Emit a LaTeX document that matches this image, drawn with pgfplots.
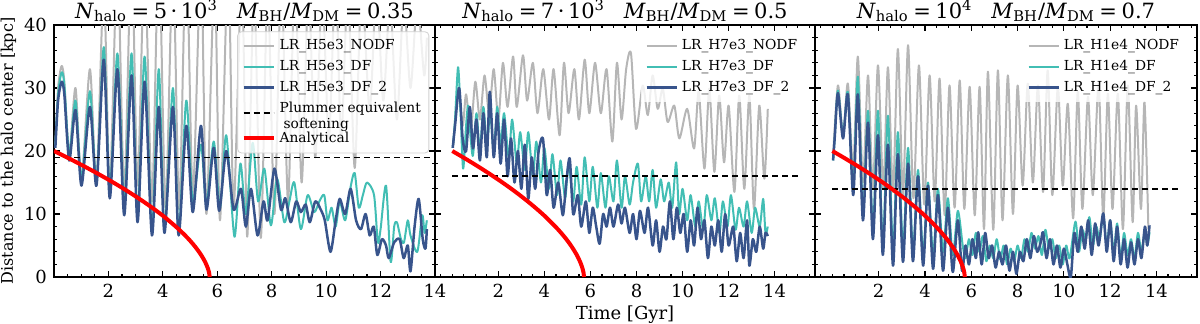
\documentclass[border=0pt]{standalone}
\usepackage{fontspec}
\setmainfont{DejaVu Serif}
\usepackage{pgfplots}
\pgfplotsset{compat=1.18}

\definecolor{nodf}{RGB}{182,182,182}
\definecolor{df}{RGB}{66,190,180}
\definecolor{dftwo}{RGB}{56,84,140}

\newcommand{\eq}{\hspace{0.22em}=\hspace{0.22em}}
\newcommand{\ttl}[2]{\textit{N}\textsubscript{halo}\eq#1\hspace{0.9em}\textit{M}\textsubscript{BH}/\textit{M}\textsubscript{DM}\eq#2}

\pgfplotsset{
  panel/.style={
    scale only axis, height=126pt,
    ymin=0, ymax=40,
    ytick={0,10,20,30,40}, minor ytick={2,4,...,38},
    xtick={2,4,...,14},
    tick align=inside,
    major tick length=3pt, minor tick length=1.6pt,
    tick style={black, line width=0.6pt},
    axis line style={line width=1pt},
    tick label style={font=\fontsize{9}{10}\selectfont},
    xlabel style={font=\fontsize{9}{10}\selectfont, yshift=3pt},
    ylabel style={font=\fontsize{8}{9}\selectfont},
    ylabel shift=-3pt,
    /pgf/number format/assume math mode=true,
    title style={font=\fontsize{10.5}{11}\selectfont, anchor=base, yshift=-2.5pt},
    legend cell align=left,
    legend image code/.code={\draw[##1] (0pt,0pt) -- (15pt,0pt);},
    legend style={font=\fontsize{6.9}{8}\selectfont, fill=white, fill opacity=0.8,
      text opacity=1, row sep=-0.3pt, inner sep=2pt},
    every axis plot/.append style={line join=round},
  },
  grey/.style={nodf, line width=1pt, smooth, tension=0.45},
  teal/.style={df, line width=1pt, smooth, tension=0.45},
  navy/.style={dftwo, line width=1.25pt, smooth, tension=0.45},
  soft/.style={black, line width=0.8pt, dash pattern=on 3pt off 2pt},
  ana/.style={red, line width=2pt, smooth},
}

\begin{document}
\begin{tikzpicture}
\useasboundingbox (-27pt,-23pt) rectangle (573pt,138.5pt);

% ---------------- panel 1 ----------------
\begin{axis}[panel, at={(0pt,0pt)}, width=190.5pt,
  xmin=0, xmax=14, minor xtick={0.5,1,...,13.5},
  ylabel={Distance to the halo center [kpc]},
  title={\ttl{5\,·\,10\textsuperscript{3}}{0.35}},
  legend style={at={(0.985,0.975)}, anchor=north east, draw=black!18, rounded corners=2pt},
]
\addplot[grey] coordinates {
(0.05,21)(0.15,30)(0.28,33.5)(0.38,31)(0.56,19.5)(0.79,30)(1.01,15.5)(1.32,33)(1.56,15)
(1.83,46)(2.05,14)(2.33,50)(2.58,13.5)(2.85,52)(3.07,14.5)(3.33,50)(3.6,12)(3.85,52)
(4.1,11)(4.37,50)(4.6,10.8)(4.86,52)(5.1,13)(5.4,50)(5.6,10)(5.9,48)(6.1,9)(6.4,50)
(6.6,10.8)(6.9,48)(7.1,6.4)(7.35,46)(7.6,6.2)(7.85,46)(8.1,10)(8.35,48)(8.6,12)(8.85,48)
(9.1,15)(9.35,46)(9.6,19)(9.85,46)(10.1,22)(10.35,48)(10.55,21.7)(10.8,46)(11.05,17.3)
(11.3,46)(11.6,26.5)(11.85,46)(12.1,28)(12.35,44)(12.6,25)(12.85,44)(13.1,30)(13.35,44)
(13.6,32)(13.7,38)};
\addplot[teal] coordinates {
(0.05,21)(0.15,29)(0.28,32.5)(0.38,30.5)(0.56,19.5)(0.79,28)(1.01,15.5)(1.32,29.5)(1.56,15)
(1.83,36.5)(2.05,13.5)(2.33,35.5)(2.58,11.5)(2.85,35.5)(3.07,9.5)(3.33,35)(3.6,7.5)(3.85,33)
(4.06,7.5)(4.37,30)(4.58,7)(4.86,28)(5.1,12)(5.4,21)(5.6,11.5)(5.87,21.5)(6.1,11)(6.33,22.5)
(6.63,6.4)(6.85,18)(7.05,10)(7.3,21.3)(7.5,12)(7.73,17.2)(7.97,8.2)(8.2,15.6)(8.46,8.7)
(8.65,12)(8.83,15)(9.07,7.6)(9.32,13)(9.56,10.3)(9.75,12)(9.93,13)(10.05,9)(10.2,11)
(10.35,8)(10.5,12)(10.7,9)(10.9,14.3)(11.05,16.5)(11.2,11)(11.35,13)(11.5,15)(11.76,13)
(11.9,5.5)(12.0,7.6)(12.2,14.5)(12.37,2.4)(12.5,8)(12.6,8.7)(12.75,6)(12.86,5.5)(13.0,9)
(13.1,6.6)(13.35,4)(13.53,9.8)(13.62,7)(13.7,9)};
\addplot[navy] coordinates {
(0.05,20.5)(0.15,28)(0.28,31)(0.38,29)(0.56,18.5)(0.79,26.5)(1.01,14.5)(1.32,27)(1.56,14.5)
(1.83,34.5)(2.05,12.5)(2.33,33)(2.58,9.8)(2.85,32)(3.07,8.7)(3.33,31)(3.6,6.6)(3.85,27)
(4.06,7)(4.37,27)(4.58,6.6)(4.86,24)(5.1,10.3)(5.4,24)(5.6,10.7)(5.87,20.5)(6.07,10.5)
(6.33,20)(6.6,10.7)(6.87,14)(7.05,8)(7.24,14)(7.48,6.6)(7.7,12)(7.85,9)(8.1,17.2)(8.34,10.7)
(8.5,12.5)(8.7,8.7)(8.9,12)(9.07,10.3)(9.25,11.5)(9.4,8.7)(9.6,12)(9.8,10.7)(9.95,9)
(10.16,4)(10.35,9)(10.5,12.4)(10.7,10)(10.9,14)(11.1,9)(11.28,7.6)(11.45,10)(11.6,6.6)
(11.75,8)(11.88,3.5)(12.05,6)(12.2,5)(12.3,3)(12.5,5.5)(12.7,6)(12.85,3)(13.0,5)(13.1,0.9)
(13.25,8)(13.4,12.4)(13.55,6)(13.65,4.5)(13.7,7.6)};
\addplot[soft] coordinates {(0,19)(14,19)};
\addplot[ana] coordinates {
(0,20)(0.5,18.93)(1,17.82)(1.5,16.66)(2,15.45)(2.5,14.17)(3,12.8)(3.5,11.33)(4,9.73)
(4.5,7.91)(4.8,6.68)(5,5.77)(5.2,4.74)(5.4,3.54)(5.55,2.42)(5.65,1.42)(5.7,0.67)(5.72,0)};
\legend{LR\_H5e3\_NODF, LR\_H5e3\_DF, LR\_H5e3\_DF\_2,
  {\begin{tabular}{@{}l@{}}Plummer equivalent\\\hspace{2pt}softening\end{tabular}}, Analytical}
\end{axis}

% ---------------- panel 2 ----------------
\begin{axis}[panel, at={(190.5pt,0pt)}, width=190pt,
  xmin=-0.75, xmax=15.75, minor xtick={-0.5,0,...,15.5},
  yticklabels={},
  xlabel={Time [Gyr]},
  title={\ttl{7\,·\,10\textsuperscript{3}}{0.5}},
  legend style={at={(0.975,0.975)}, anchor=north east, draw=none},
]
\addplot[grey] coordinates {
(0.05,21)(0.25,30)(0.45,24)(0.6,29)(0.8,23)(1.0,31)(1.2,25)(1.4,32)(1.6,26)(1.8,33)
(2.0,25)(2.2,34)(2.4,27)(2.64,35)(2.8,27)(3.07,35.2)(3.25,28)(3.5,34)(3.7,26)(3.95,33)
(4.2,25)(4.4,33)(4.66,22.5)(4.85,34)(5.05,26)(5.3,33)(5.5,25)(5.75,34.5)(5.95,26)(6.2,34)
(6.45,26)(6.7,33)(6.95,21.5)(7.15,34)(7.35,25)(7.55,33)(7.76,35.5)(7.98,23.5)(8.27,30.4)
(8.49,25.7)(8.7,32)(8.92,26.7)(9.14,29.9)(9.35,24.6)(9.64,27.2)(9.86,22)(10.2,26.7)
(10.5,20.4)(10.7,29.4)(10.95,17.2)(11.16,29.9)(11.38,16.7)(11.59,28.8)(11.8,18.2)
(12.0,27.2)(12.25,13.5)(12.46,28.8)(12.68,14)(12.9,28.8)(13.1,10.8)(13.33,27.2)
(13.55,15.6)(13.7,26.7)};
\addplot[teal] coordinates {
(0.02,20.5)(0.12,25)(0.25,33.3)(0.35,27)(0.47,17.2)(0.6,24)(0.69,27.2)(0.8,22)(0.9,19.3)
(1.05,26)(1.2,20)(1.35,27)(1.5,21)(1.65,26)(1.8,20)(1.95,27)(2.1,21)(2.25,26)(2.45,19)
(2.6,25)(2.8,18)(2.95,23)(3.15,17)(3.3,23)(3.5,16)(3.65,21.5)(3.85,15)(4.0,20.5)(4.2,14)
(4.35,19.5)(4.55,13)(4.7,18.5)(4.9,12.5)(5.05,18)(5.25,12)(5.4,17.5)(5.6,11.5)(5.75,19)
(5.95,12)(6.1,17.5)(6.3,11)(6.45,16.5)(6.65,11)(6.8,16)(7.0,12)(7.15,18.5)(7.35,11)
(7.5,16)(7.7,11.5)(7.85,15)(8.06,18)(8.2,12)(8.4,16)(8.55,12)(8.7,17)(8.85,11)(9.05,15.5)
(9.2,12)(9.4,15)(9.55,11)(9.72,18.2)(9.85,10)(10.0,14)(10.2,9)(10.35,13)(10.55,8)(10.7,12)
(10.9,7.5)(11.05,13)(11.25,9)(11.4,12.5)(11.6,7)(11.75,12)(11.95,8)(12.1,13)(12.3,7.5)
(12.45,11)(12.65,8)(12.8,12)(13.0,7)(13.15,11)(13.35,8)(13.5,12.4)(13.6,7)(13.7,8)};
\addplot[navy] coordinates {
(0.02,20.5)(0.12,24)(0.3,30)(0.45,22)(0.6,20)(0.76,27)(0.9,20.4)(1.05,25)(1.2,18.5)
(1.35,26)(1.5,19)(1.63,29.4)(1.8,19)(1.95,26)(2.1,18)(2.25,25)(2.4,16)(2.55,22)(2.7,15)
(2.85,20)(3.0,14)(3.15,21)(3.3,12.4)(3.45,19)(3.6,14)(3.75,20)(3.94,21.9)(4.1,13)(4.25,17)
(4.4,11)(4.6,15)(4.8,9.8)(4.95,15)(5.1,18.8)(5.25,10)(5.45,13)(5.6,8)(5.8,12)(5.95,7)
(6.1,11)(6.25,8)(6.4,5.3)(6.55,10)(6.7,8)(6.85,11)(7.0,8)(7.2,11.5)(7.35,8.5)(7.5,11)
(7.7,7)(7.85,10)(8.0,6)(8.15,10.5)(8.35,7)(8.5,11)(8.7,5)(8.85,9)(9.0,4)(9.15,8)(9.3,6)
(9.45,12)(9.6,6)(9.75,11)(9.9,7)(10.05,10)(10.2,4)(10.35,9)(10.5,5)(10.65,11)(10.8,6)
(10.95,9)(11.1,3)(11.25,8)(11.4,5)(11.55,9)(11.7,4)(11.85,10)(12.0,5)(12.2,8)(12.35,2.5)
(12.5,7)(12.65,3)(12.8,9)(12.9,1.8)(13.05,6)(13.2,4)(13.35,8)(13.5,4.5)(13.6,7)(13.7,6.5)};
\addplot[soft] coordinates {(0,16)(15,16)};
\addplot[ana] coordinates {
(0,20)(0.5,18.93)(1,17.82)(1.5,16.66)(2,15.45)(2.5,14.17)(3,12.8)(3.5,11.33)(4,9.73)
(4.5,7.91)(4.8,6.68)(5,5.77)(5.2,4.74)(5.4,3.54)(5.55,2.42)(5.65,1.42)(5.7,0.67)(5.72,0)};
\legend{LR\_H7e3\_NODF, LR\_H7e3\_DF, LR\_H7e3\_DF\_2}
\end{axis}

% ---------------- panel 3 ----------------
\begin{axis}[panel, at={(380.5pt,0pt)}, width=191pt,
  xmin=-0.75, xmax=15.75, minor xtick={-0.5,0,...,15.5},
  yticklabels={},
  title={\ttl{10\textsuperscript{4}}{0.7}},
  legend style={at={(0.975,0.975)}, anchor=north east, draw=none},
]
\addplot[grey] coordinates {
(0.03,19)(0.24,30.4)(0.46,22.5)(0.67,30.7)(0.9,17)(1.1,35)(1.32,15)(1.54,32)(1.75,14)
(1.97,33.6)(2.2,14)(2.4,33.3)(2.62,13.5)(2.83,36.2)(3.05,13)(3.27,36.8)(3.5,12.5)(3.74,33.6)
(3.97,11.5)(4.2,32)(4.42,12)(4.63,31.5)(4.85,9.8)(5.06,30.4)(5.28,11)(5.5,31.2)(5.7,10.8)
(5.93,30.2)(6.15,9.8)(6.36,30.2)(6.55,7.6)(6.72,32.6)(6.95,7.5)(7.15,32.8)(7.35,9)
(7.58,32)(7.8,10)(8.0,30.4)(8.22,14.5)(8.44,30.7)(8.66,15)(8.88,30.4)(9.1,13.5)(9.3,32.8)
(9.5,13)(9.74,30.2)(9.95,14.5)(10.17,27.5)(10.4,9.3)(10.6,29.4)(10.8,10.8)(11.04,28.6)
(11.25,13)(11.5,30.7)(11.7,9.3)(11.9,29.1)(12.1,10.8)(12.33,29.1)(12.55,7.6)(12.76,30.4)
(12.97,8.7)(13.12,27.2)(13.33,10.8)(13.48,27.8)(13.65,7.6)};
\addplot[teal] coordinates {
(0.03,18.5)(0.1,22)(0.24,29.6)(0.46,22.5)(0.67,29.4)(0.9,14)(1.1,31.8)(1.32,10)(1.54,26.4)
(1.75,7.5)(1.97,26.4)(2.18,5)(2.4,25.6)(2.62,4)(2.83,23)(3.05,4.5)(3.27,20.5)(3.48,4)
(3.7,17)(3.92,3.5)(4.13,15)(4.35,3.5)(4.56,14)(4.78,4)(4.99,12.5)(5.2,3.5)(5.42,10.5)
(5.63,5)(5.75,3)(5.9,6)(6.05,3.5)(6.2,7)(6.35,4)(6.5,6.5)(6.65,2.5)(6.8,5)(6.95,3)(7.1,6)
(7.25,2.8)(7.4,5)(7.55,2)(7.7,4.5)(7.85,2.5)(8.0,5)(8.15,3)(8.3,6)(8.45,4)(8.6,7)(8.75,4.5)
(8.9,6.5)(9.05,3.5)(9.2,7.5)(9.35,4.5)(9.5,6)(9.65,3)(9.8,5)(9.95,2)(10.1,5)(10.25,3)
(10.5,8.8)(10.65,4)(10.8,7.5)(10.95,6)(11.1,9.5)(11.25,5)(11.4,8)(11.55,6)(11.7,10)
(11.85,5)(12.0,9)(12.15,4)(12.3,8.5)(12.45,3)(12.6,7)(12.75,3.5)(12.9,6)(13.05,3)(13.2,7)
(13.35,4)(13.5,7.5)(13.6,5)(13.7,7.1)};
\addplot[navy] coordinates {
(0.03,18.5)(0.1,22)(0.24,29.2)(0.46,22)(0.67,29)(0.9,13)(1.1,29)(1.32,9)(1.54,24.5)
(1.75,6)(1.97,22.5)(2.18,3.5)(2.4,21)(2.62,1.8)(2.83,19.5)(3.05,2.4)(3.27,18)(3.48,2.5)
(3.7,16)(3.92,1.8)(4.13,14.5)(4.35,1.3)(4.56,13)(4.78,1)(4.99,11)(5.2,0.8)(5.42,9)
(5.6,1)(5.75,5)(5.9,2)(6.05,6)(6.2,3)(6.3,7.1)(6.45,2)(6.6,7)(6.75,3)(6.9,5)(7.05,1.5)
(7.2,4)(7.35,2)(7.5,5)(7.65,1)(7.8,4)(7.95,0.5)(8.1,4)(8.25,2.5)(8.4,6)(8.55,3)(8.7,6.5)
(8.85,4)(9.0,5.5)(9.1,7.1)(9.25,3)(9.4,6)(9.55,2)(9.7,5)(9.85,1.5)(10.0,4.5)(10.15,2)
(10.3,0)(10.45,7)(10.6,4)(10.75,8)(10.9,4.5)(11.05,9)(11.2,3.5)(11.35,8.5)(11.5,5)
(11.7,10.1)(11.85,4)(12.0,9)(12.15,2.5)(12.3,8)(12.45,2)(12.6,6)(12.75,1.5)(12.9,5.5)
(13.05,2)(13.2,6)(13.35,3)(13.5,8)(13.6,5)(13.7,8.2)};
\addplot[soft] coordinates {(0,14)(15,14)};
\addplot[ana] coordinates {
(0,20)(0.5,18.93)(1,17.82)(1.5,16.66)(2,15.45)(2.5,14.17)(3,12.8)(3.5,11.33)(4,9.73)
(4.5,7.91)(4.8,6.68)(5,5.77)(5.2,4.74)(5.4,3.54)(5.55,2.42)(5.65,1.42)(5.7,0.67)(5.72,0)};
\legend{LR\_H1e4\_NODF, LR\_H1e4\_DF, LR\_H1e4\_DF\_2}
\end{axis}
\end{tikzpicture}
\end{document}
